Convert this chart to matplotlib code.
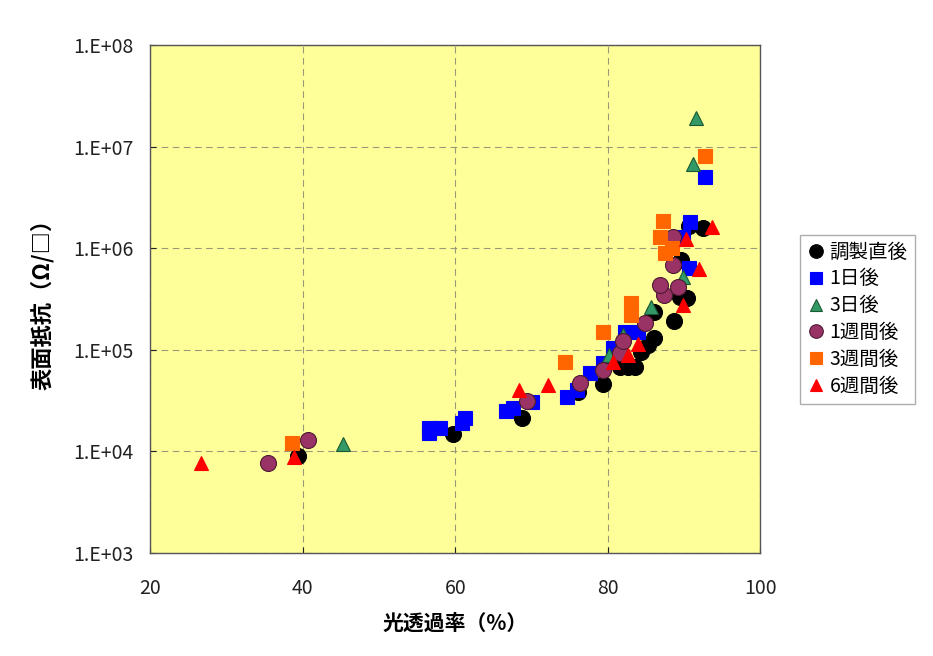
import numpy as np
import matplotlib.pyplot as plt
from matplotlib.ticker import FixedLocator, FuncFormatter, NullLocator

plt.rcParams['font.family'] = ['Noto Sans CJK JP', 'DejaVu Sans']

# 光透過率 (%) / 表面抵抗 (Ω/□) per series
x_0d = [39.4, 59.7, 68.7, 76.1, 79.3, 81.6, 82.6, 83.6, 84.3, 85.3, 86.0, 86.0, 88.7, 89.5, 90.4, 89.6, 90.6, 92.5]
y_0d = [9000, 14800, 21300, 38500, 46000, 67700, 67700, 67700, 95000, 111000, 131000, 235000, 192000, 331000, 324000, 766000, 1.66e6, 1.58e6]

x_1d = [56.6, 58.0, 56.5, 60.9, 61.3, 66.6, 67.6, 70.1, 74.7, 76.0, 77.7, 79.4, 80.7, 82.3, 84.0, 90.6, 89.8, 90.8, 92.8]
y_1d = [17000, 17000, 15200, 19000, 21300, 25000, 26800, 30600, 34300, 40200, 59100, 74200, 104000, 150000, 150000, 638000, 1.29e6, 1.81e6, 5.0e6]

x_3d = [45.3, 80.1, 82.0, 85.7, 89.8, 91.2, 91.5]
y_3d = [11800, 89000, 140000, 264000, 521000, 6.74e6, 1.91e7]

x_1w = [35.5, 40.7, 69.4, 76.3, 79.3, 81.6, 82.0, 84.9, 87.3, 86.9, 89.2, 88.6, 88.6]
y_1w = [7700, 12900, 31300, 47100, 63300, 93100, 122000, 184000, 346000, 434000, 415000, 684000, 1.29e6]

x_3w = [38.6, 74.4, 79.4, 83.0, 83.0, 87.5, 88.4, 86.9, 87.2, 92.8]
y_3w = [12100, 75900, 150000, 220000, 289000, 898000, 1.0e6, 1.29e6, 1.85e6, 8.07e6]

x_6w = [26.7, 38.8, 68.3, 72.2, 80.7, 82.6, 84.0, 89.9, 92.0, 90.3, 93.7]
y_6w = [7700, 8800, 40200, 45000, 75900, 89000, 114000, 276000, 624000, 1.23e6, 1.62e6]

series = [
    ("調製直後", x_0d, y_0d, 'o', '#000000', '#000000', 11.5),
    ("1日後", x_1d, y_1d, 's', '#0000FF', '#0000FF', 9.5),
    ("3日後", x_3d, y_3d, '^', '#339966', '#1a5a33', 10.5),
    ("1週間後", x_1w, y_1w, 'o', '#993366', '#4d1a33', 11.5),
    ("3週間後", x_3w, y_3w, 's', '#FF6600', '#FF6600', 9.5),
    ("6週間後", x_6w, y_6w, '^', '#FF0000', '#FF0000', 10.5),
]

fig = plt.figure(figsize=(9.33, 6.56), dpi=100)
ax = fig.add_axes([0.161, 0.157, 0.654, 0.774])
ax.set_facecolor('#FFFF99')

for name, xs, ys, m, fc, ec, ms in series:
    ax.plot(xs, ys, linestyle='none', marker=m, markersize=ms,
            markerfacecolor=fc, markeredgecolor=ec, markeredgewidth=0.8, label=name)

ax.set_yscale('log')
ax.set_xlim(20, 100)
ax.set_ylim(1e3, 1e8)
ax.set_xticks([20, 40, 60, 80, 100])
ax.yaxis.set_major_locator(FixedLocator([1e3, 1e4, 1e5, 1e6, 1e7, 1e8]))
ax.yaxis.set_minor_locator(NullLocator())
ax.yaxis.set_major_formatter(FuncFormatter(lambda v, p: "1.E+%02d" % round(np.log10(v))))
ax.tick_params(direction='in', length=4, labelsize=14, colors='#222222')
ax.tick_params(axis='x', pad=18)
ax.tick_params(axis='y', pad=12)

ax.grid(True, which='major', linestyle=(0, (6, 4)), color='#999977', linewidth=0.8)
for s in ax.spines.values():
    s.set_color('#555555')
    s.set_linewidth(1)

ax.set_xlabel("光透過率（%）", fontsize=15, fontweight='bold', labelpad=10)
ax.set_ylabel("表面抵抗（Ω/□）", fontsize=16, fontweight='bold', labelpad=14)

leg = ax.legend(loc='upper left', bbox_to_anchor=(0.857, 0.642), bbox_transform=fig.transFigure,
                fontsize=14, frameon=True, fancybox=False, handletextpad=0.2,
                handlelength=1.0, borderpad=0.35, labelspacing=0.3, borderaxespad=0,
                markerscale=0.85)
leg.get_frame().set_edgecolor('#999999')
leg.get_frame().set_linewidth(1)

fig.savefig('out.png', dpi=100)
